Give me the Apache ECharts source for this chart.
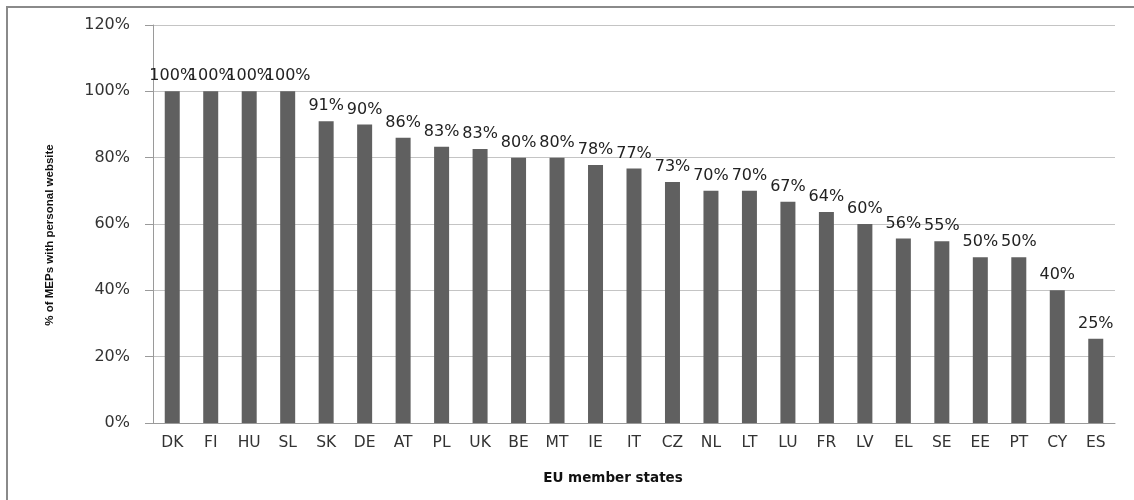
<!DOCTYPE html>
<html>
<head>
<meta charset="utf-8">
<script src="https://cdn.jsdelivr.net/npm/echarts@6/dist/echarts.min.js"></script>
<style>
  html, body { margin: 0; padding: 0; background: #fff; }
  #chart { width: 1134px; height: 500px; }
</style>
</head>
<body>
<div id="chart"></div>
<script>
// EU member states, ordered by share of MEPs with a personal website
const countries = ['DK', 'FI', 'HU', 'SL', 'SK', 'DE', 'AT', 'PL', 'UK', 'BE', 'MT', 'IE', 'IT',
                   'CZ', 'NL', 'LT', 'LU', 'FR', 'LV', 'EL', 'SE', 'EE', 'PT', 'CY', 'ES'];
// percentage of MEPs with a personal website
const sharePct = [100, 100, 100, 100, 91, 90, 86, 83.3, 82.6, 80, 80, 77.8, 76.7,
                  72.7, 70, 70, 66.7, 63.6, 60, 55.6, 54.8, 50, 50, 40, 25.4];
// value axis ticks
const yTicks = [0, 20, 40, 60, 80, 100, 120];

const chart = echarts.init(document.getElementById('chart'), null, { renderer: 'canvas' });

const tickFont = 'DejaVu Sans';

chart.setOption({
  backgroundColor: '#ffffff',
  animation: false,
  graphic: [{
    type: 'rect',
    shape: { x: 7, y: 7, width: 1140, height: 510 },
    style: { fill: 'none', stroke: '#8a8a8a', lineWidth: 2 },
    silent: true,
    z: -1
  }],
  grid: { left: 153, right: 19, top: 25, bottom: 77 },
  xAxis: {
    type: 'category',
    data: countries,
    axisLine: { lineStyle: { color: '#9a9a9a', width: 1 } },
    axisTick: { length: 5, lineStyle: { color: '#9a9a9a' } },
    axisLabel: { color: '#333', fontFamily: tickFont, fontSize: 15.5, margin: 12, interval: 0 },
    name: 'EU member states',
    nameLocation: 'middle',
    nameGap: 48,
    nameTextStyle: {
      fontFamily: 'DejaVu Sans', fontWeight: 'bold', fontSize: 13.5, color: '#111',
      padding: [0, 42, 0, 0]
    }
  },
  yAxis: {
    type: 'value',
    min: yTicks[0],
    max: yTicks[yTicks.length - 1],
    interval: yTicks[1] - yTicks[0],
    axisLine: { show: true, lineStyle: { color: '#9a9a9a', width: 1 } },
    axisTick: { show: true, length: 8, lineStyle: { color: '#9a9a9a' } },
    splitLine: { lineStyle: { color: '#c4c4c4', width: 1 } },
    axisLabel: {
      color: '#333', fontFamily: tickFont, fontSize: 16, margin: 23,
      formatter: v => v + '%'
    },
    name: '% of MEPs with personal website',
    nameLocation: 'middle',
    nameGap: 97,
    nameTextStyle: {
      fontFamily: 'Liberation Sans', fontWeight: 'bold', fontSize: 11.5, color: '#111',
      padding: [0, 22, 0, 0]
    }
  },
  series: [{
    type: 'bar',
    data: sharePct,
    barWidth: 15,
    itemStyle: { color: '#606060' },
    label: {
      show: true,
      position: 'top',
      distance: 7,
      color: '#222',
      fontFamily: tickFont,
      fontSize: 16,
      formatter: p => Math.round(p.value) + '%'
    }
  }]
});
</script>
</body>
</html>
